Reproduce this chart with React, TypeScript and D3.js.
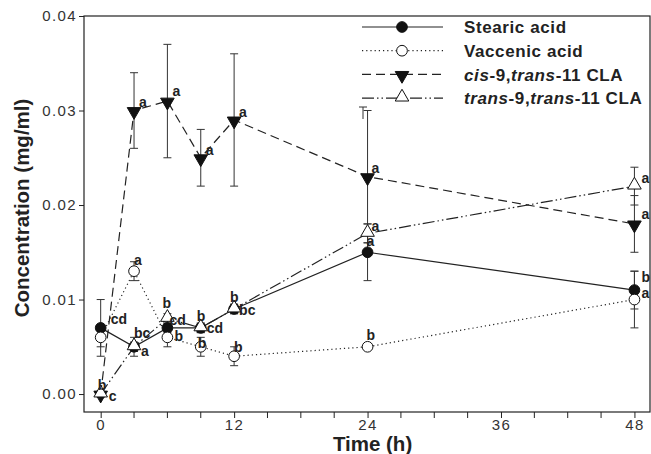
import * as d3 from "d3";
import React, { useEffect, useRef } from "react";

// sampling times (h)
const times = [0, 3, 6, 9, 12, 24, 48];

const stearic = [0.007, 0.005, 0.007, 0.007, 0.009, 0.015, 0.011];
const stearicErr = [0.003, 0.001, 0.0005, 0.0005, 0.0005, 0.003, 0.002];
const stearicLetters = ["cd", "bc", "cd", "cd", "bc", "a", "a"];

const vaccenic = [0.006, 0.013, 0.006, 0.005, 0.004, 0.005, 0.01];
const vaccenicErr = [0.001, 0.001, 0.001, 0.001, 0.001, 0.0003, 0.003];
const vaccenicLetters = ["", "a", "b", "b", "b", "b", "b"];

const cis = [0.0, 0.03, 0.031, 0.025, 0.029, 0.023, 0.018];
const cisErr = [0.0003, 0.004, 0.006, 0.003, 0.007, 0.007, 0.003];
const cisLetters = ["b", "a", "a", "a", "a", "a", "a"];

const trans = [0.0, 0.005, 0.008, 0.007, 0.009, 0.017, 0.022];
const transErr = [0.0003, 0.0005, 0.0005, 0.0005, 0.0005, 0.001, 0.002];
const transLetters = ["c", "a", "b", "b", "b", "a", "a"];

const xTicks = [0, 12, 24, 36, 48];
const xMinor = [3, 6, 9, 15, 18, 21, 27, 30, 33, 39, 42, 45];
const yTicks = [0, 0.01, 0.02, 0.03, 0.04];

// pixel offsets of the significance letters from their point
const stearicOff = [[10, -9], [0, -14], [2, -8], [6, 0], [5, 1], [-1, -11], [7, 3]];
const vaccenicOff = [[0, 0], [0, -11], [7, -1], [-3, -4], [0, -9], [-1, -12], [7, -22]];
const cisOff = [[-3, -9], [5, -8], [5, -10], [5, -8], [5, -8], [4, -9], [7, -10]];
const transOff = [[8, 2], [7, 4], [-5, -15], [-4, -12], [-4, -12], [4, -7], [7, -8]];

const series = [
  { name: "stearic", vals: stearic, err: stearicErr, letters: stearicLetters, off: stearicOff, dash: null, marker: "circle", fill: "#111" },
  { name: "vaccenic", vals: vaccenic, err: vaccenicErr, letters: vaccenicLetters, off: vaccenicOff, dash: "1.2,3", marker: "circle", fill: "#fff" },
  { name: "cis", vals: cis, err: cisErr, letters: cisLetters, off: cisOff, dash: "9,5", marker: "down", fill: "#111" },
  { name: "trans", vals: trans, err: transErr, letters: transLetters, off: transOff, dash: "12,3,1.5,3,1.5,3", marker: "up", fill: "#fff" },
];

const W = 651;
const H = 454;
const margin = { left: 84, right: 1, top: 16, bottom: 42 };

export default function App() {
  const svgRef = useRef<SVGSVGElement>(null);

  useEffect(() => {
    const svg = d3.select(svgRef.current);
    svg.selectAll("*").remove();
    const font = "Liberation Sans, Arial, sans-serif";

    const x = d3.scaleLinear().domain([-1.5, 49.4]).range([margin.left, W - margin.right]);
    const y = d3.scaleLinear().domain([-0.0019, 0.04]).range([H - margin.bottom, margin.top]);

    // frame
    svg
      .append("rect")
      .attr("x", margin.left)
      .attr("y", margin.top)
      .attr("width", W - margin.right - margin.left)
      .attr("height", H - margin.bottom - margin.top)
      .attr("fill", "none")
      .attr("stroke", "#222")
      .attr("stroke-width", 1.2);

    const xAxis = svg.append("g").attr("transform", `translate(0,${H - margin.bottom})`);
    xAxis
      .call(d3.axisBottom(x).tickValues(xTicks).tickSize(6).tickSizeOuter(0).tickPadding(1).tickFormat(d3.format("d")))
      .call((g) => g.select(".domain").remove());
    xAxis
      .append("g")
      .selectAll("line")
      .data(xMinor)
      .join("line")
      .attr("x1", (d) => x(d))
      .attr("x2", (d) => x(d))
      .attr("y1", 0)
      .attr("y2", 6)
      .attr("stroke", "#222");

    const yAxis = svg.append("g").attr("transform", `translate(${margin.left},0)`);
    yAxis
      .call(d3.axisLeft(y).tickValues(yTicks).tickSize(5).tickSizeOuter(0).tickPadding(2).tickFormat(d3.format(".2f")))
      .call((g) => g.select(".domain").remove());

    svg
      .selectAll(".tick text")
      .attr("font-family", font)
      .attr("font-size", 15)
      .attr("letter-spacing", 1.4)
      .attr("fill", "#333");
    svg.selectAll(".tick line").attr("stroke", "#222");

    // axis titles
    svg
      .append("text")
      .attr("x", x(24) + 5)
      .attr("y", 451)
      .attr("text-anchor", "middle")
      .attr("font-family", font)
      .attr("font-weight", "bold")
      .attr("font-size", 20.5)
      .attr("fill", "#222")
      .text("Time (h)");
    svg
      .append("text")
      .attr("transform", `translate(29,${208}) rotate(-90)`)
      .attr("text-anchor", "middle")
      .attr("font-family", font)
      .attr("font-weight", "bold")
      .attr("font-size", 20.5)
      .attr("fill", "#222")
      .text("Concentration (mg/ml)");

    const markerPath = (m: string) => {
      if (m === "circle") return d3.symbol(d3.symbolCircle, 90)();
      return d3.symbol(d3.symbolTriangle, 80)();
    };
    const markerTransform = (m: string, px: number, py: number) =>
      m === "down" ? `translate(${px},${py + 1}) rotate(180)` : m === "up" ? `translate(${px},${py - 1})` : `translate(${px},${py})`;

    // lines
    series.forEach((s) => {
      const line = d3
        .line<number>()
        .x((_, i) => x(times[i]))
        .y((d) => y(d));
      svg
        .append("path")
        .datum(s.vals)
        .attr("d", line)
        .attr("fill", "none")
        .attr("stroke", "#222")
        .attr("stroke-width", 1.2)
        .attr("stroke-dasharray", s.dash);
    });

    // error bars
    series.forEach((s) => {
      const g = svg.append("g").attr("stroke", "#333").attr("stroke-width", 1);
      s.vals.forEach((v, i) => {
        const px = x(times[i]);
        const lo = y(v - s.err[i]);
        const hi = y(v + s.err[i]);
        g.append("line").attr("x1", px).attr("x2", px).attr("y1", lo).attr("y2", hi);
        g.append("line").attr("x1", px - 4).attr("x2", px + 4).attr("y1", lo).attr("y2", lo);
        g.append("line").attr("x1", px - 4).attr("x2", px + 4).attr("y1", hi).attr("y2", hi);
      });
    });

    // markers
    series.forEach((s) => {
      svg
        .append("g")
        .selectAll("path")
        .data(s.vals)
        .join("path")
        .attr("d", markerPath(s.marker))
        .attr("transform", (d, i) => markerTransform(s.marker, x(times[i]), y(d)))
        .attr("fill", s.fill)
        .attr("stroke", "#111")
        .attr("stroke-width", 1);
    });

    // significance letters
    series.forEach((s) => {
      svg
        .append("g")
        .selectAll("text")
        .data(s.letters)
        .join("text")
        .attr("x", (d, i) => x(times[i]) + s.off[i][0])
        .attr("y", (d, i) => y(s.vals[i]) + s.off[i][1])
        .attr("dy", "0.35em")
        .attr("font-family", font)
        .attr("font-weight", "bold")
        .attr("font-size", 14)
        .attr("fill", "#222")
        .text((d) => d);
    });

    // legend
    const legendRows = [
      [{ t: "Stearic acid", i: false }],
      [{ t: "Vaccenic acid", i: false }],
      [{ t: "cis", i: true }, { t: "-9,", i: false }, { t: "trans", i: true }, { t: "-11 CLA", i: false }],
      [{ t: "trans", i: true }, { t: "-9,", i: false }, { t: "trans", i: true }, { t: "-11 CLA", i: false }],
    ];
    const lg = svg.append("g");
    series.forEach((s, k) => {
      const ly = 27 + k * 23.7;
      lg.append("line")
        .attr("x1", 362)
        .attr("x2", 443)
        .attr("y1", ly)
        .attr("y2", ly)
        .attr("stroke", "#222")
        .attr("stroke-width", 1.2)
        .attr("stroke-dasharray", s.dash);
      lg.append("path")
        .attr("d", markerPath(s.marker))
        .attr("transform", markerTransform(s.marker, 402, ly))
        .attr("fill", s.fill)
        .attr("stroke", "#111");
      const txt = lg
        .append("text")
        .attr("x", 464)
        .attr("y", ly)
        .attr("dy", "0.36em")
        .attr("font-family", font)
        .attr("font-weight", "bold")
        .attr("font-size", 17)
        .attr("letter-spacing", 0.6)
        .attr("fill", "#222");
      legendRows[k].forEach((p) => {
        txt.append("tspan").attr("font-style", p.i ? "italic" : "normal").text(p.t);
      });
    });
    // error bar legend symbol
    lg.append("line").attr("x1", 363).attr("x2", 363).attr("y1", 107).attr("y2", 119).attr("stroke", "#333");
    lg.append("line").attr("x1", 359).attr("x2", 367).attr("y1", 107).attr("y2", 107).attr("stroke", "#333");
  }, []);

  return (
    <div style={{ position: "absolute", left: 0, top: 0 }}>
      <svg ref={svgRef} width={W} height={H} style={{ display: "block", background: "#fff" }} />
    </div>
  );
}
